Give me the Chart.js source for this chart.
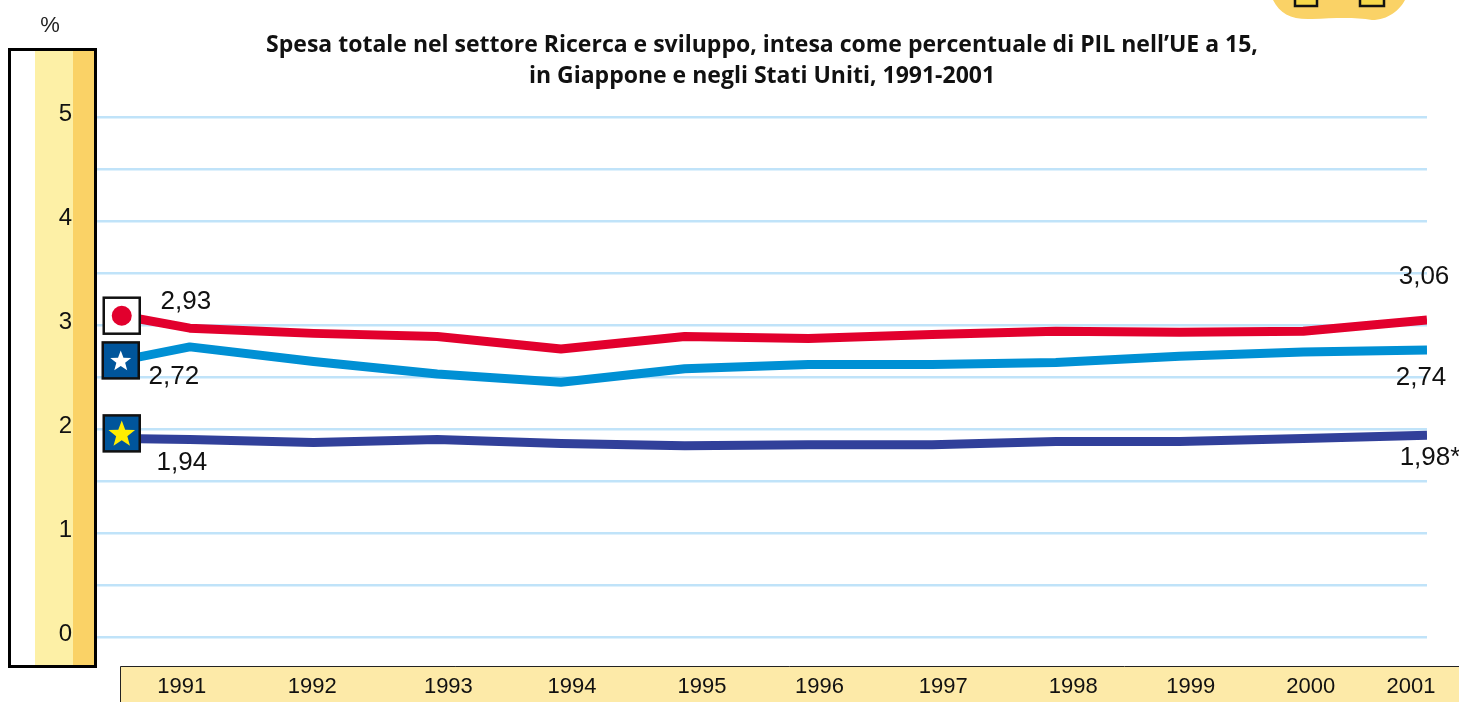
<!DOCTYPE html>
<html><head><meta charset="utf-8">
<style>html,body{margin:0;padding:0;background:#fff}#w{width:1459px;height:702px;position:relative}</style>
<script src="https://cdn.jsdelivr.net/npm/chart.js@4"></script></head>
<body><div id="w"><canvas id="c" width="1459" height="702"></canvas></div>
<script>
const years = [1991,1992,1993,1994,1995,1996,1997,1998,1999,2000,2001];
const yearLabelAt = [1990.935,1991.99,1993.09,1994.09,1995.14,1996.09,1997.09,1998.14,1999.09,2000.06,2000.87];
const lineX = [1990.45,1991,1992,1993,1994,1995,1996,1997,1998,1999,2000,2001];
const japan = [3.09,2.97,2.92,2.89,2.77,2.89,2.87,2.91,2.94,2.93,2.94,3.05];
const usa   = [2.66,2.79,2.65,2.53,2.45,2.58,2.62,2.62,2.64,2.70,2.74,2.76];
const eu15  = [1.91,1.90,1.87,1.90,1.86,1.84,1.85,1.85,1.88,1.88,1.91,1.94];
const valueLabels = [
  {t:'2,93',x:1991,v:japan[1],dx:-4,dy:-26},
  {t:'2,72',x:1991,v:usa[1],dx:-16,dy:30},
  {t:'1,94',x:1991,v:eu15[1],dx:-8,dy:23},
  {t:'3,06',x:2001,v:japan[11],dx:-3,dy:-43},
  {t:'2,74',x:2001,v:usa[11],dx:-6,dy:28},
  {t:'1,98*',x:2001,v:eu15[11],dx:3,dy:23}
];
const titleLines = ["Spesa totale nel settore Ricerca e sviluppo, intesa come percentuale di PIL nell’UE a 15,","in Giappone e negli Stati Uniti, 1991-2001"];
const F = '"Liberation Sans", Arial, sans-serif';
function star(ctx,cx,cy,r,col){ctx.fillStyle=col;ctx.beginPath();for(let i=0;i<10;i++){const a=-Math.PI/2+i*Math.PI/5,q=i%2?r*0.42:r;ctx.lineTo(cx+q*Math.cos(a),cy+q*Math.sin(a));}ctx.closePath();ctx.fill();}
function box(ctx,cx,cy,fill){ctx.fillStyle=fill;ctx.fillRect(cx-18,cy-18,36,36);ctx.strokeStyle='#111';ctx.lineWidth=2.5;ctx.strokeRect(cx-18,cy-18,36,36);}
const decor={id:'decor',
 beforeDraw(ch){const c=ch.ctx;c.save();
  c.fillStyle='#fff';c.fillRect(10,50,86,617);
  c.fillStyle='#fdf0a6';c.fillRect(35,50,38,617);
  c.fillStyle='#fad266';c.fillRect(73,50,22,617);
  c.strokeStyle='#000';c.lineWidth=3;c.strokeRect(9.5,49.5,86,617);
  c.fillStyle='#fdeaa8';c.fillRect(120.5,666.5,1339,36);
  c.strokeStyle='#222';c.lineWidth=1;c.beginPath();c.moveTo(120.5,702);c.lineTo(120.5,666.5);c.lineTo(1459,666.5);c.stroke();
  c.fillStyle='#fad266';c.beginPath();c.moveTo(1273,0);c.bezierCurveTo(1280,14,1292,20,1312,19);c.bezierCurveTo(1335,18,1355,17,1372,20);c.bezierCurveTo(1388,20,1400,10,1405,0);c.closePath();c.fill();
  c.strokeStyle='#111';c.lineWidth=2.5;c.fillStyle='#f7d84a';
  c.fillRect(1295,-4,22,10);c.strokeRect(1295,-4,22,10);c.fillRect(1360,-4,24,10);c.strokeRect(1360,-4,24,10);
  c.fillStyle='#222';c.font='22px '+F;c.textAlign='center';c.textBaseline='middle';c.fillText('%',50,26);
  c.restore();},
 afterDatasetsDraw(ch){const c=ch.ctx,X=ch.scales.x,Y=ch.scales.y;c.save();
  const x0=X.getPixelForValue(lineX[0]);
  const jy=Y.getPixelForValue(japan[0]),uy=Y.getPixelForValue(usa[0]),ey=Y.getPixelForValue(eu15[0]);
  box(c,x0,jy,'#fff');c.fillStyle='#e2002d';c.beginPath();c.arc(x0,jy,10,0,7);c.fill();
  box(c,x0-1,uy,'#00559b');star(c,x0-1,uy+1,11,'#fff');
  box(c,x0,ey-5,'#00559b');star(c,x0,ey-4,14,'#ffee00');
  c.fillStyle='#111';c.font='26px '+F;c.textAlign='center';c.textBaseline='middle';
  valueLabels.forEach(l=>c.fillText(l.t,X.getPixelForValue(l.x)+l.dx,Y.getPixelForValue(l.v)+l.dy));
  c.restore();}
};
const ds=(label,data,color)=>({label,data:data.map((v,i)=>({x:lineX[i],y:v})),borderColor:color,backgroundColor:color,borderWidth:9,pointRadius:0,tension:0,borderJoinStyle:'round',borderCapStyle:'butt'});
new Chart(document.getElementById('c'),{
 type:'line',
 data:{datasets:[ds('Giappone',japan,'#e2002d'),ds('Stati Uniti',usa,'#0090d4'),ds('UE a 15',eu15,'#31409a')]},
 plugins:[decor],
 options:{responsive:false,animation:false,
  layout:{autoPadding:false,padding:{left:0,right:32,top:0,bottom:0}},
  plugins:{legend:{display:false},tooltip:{enabled:false},
   title:{display:true,fullSize:false,text:titleLines,color:'#111',align:'center',font:{family:'"Open Sans"',size:23,weight:'bold',lineHeight:1.35},padding:{top:30,bottom:25}}},
  scales:{
   x:{type:'linear',min:1990.25,max:2001,
      afterBuildTicks(s){s.ticks=yearLabelAt.map(v=>({value:v}));},
      afterFit(s){s.height=65;s.paddingLeft=0;s.paddingRight=0;},
      grid:{display:false},border:{display:false},
      ticks:{autoSkip:false,maxRotation:0,padding:29,color:'#111',font:{family:F,size:22},
        callback:(v,i)=>String(years[i])}},
   y:{min:0,max:5,
      afterFit(s){s.width=97;},
      border:{display:false},
      grid:{color:'#c0e3f9',lineWidth:2.5,drawTicks:false},
      ticks:{stepSize:0.5,padding:25,labelOffset:-3,color:'#111',font:{family:F,size:24},
        callback:v=>Number.isInteger(v)?String(v):''}}
  }}
});
</script></body></html>
